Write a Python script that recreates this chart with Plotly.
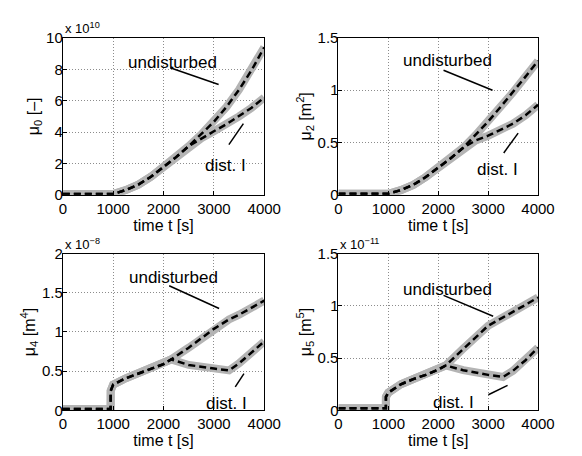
import plotly.graph_objects as go

# ---------------- data ----------------
t_top = [0, 500, 1000, 1250, 1500, 1750, 2000, 2250, 2500, 2750, 3000, 3250, 3500, 3750, 4000]
mu0_undisturbed = [0.05, 0.05, 0.05, 0.3, 0.65, 1.15, 1.75, 2.4, 3.1, 3.85, 4.65, 5.6, 6.7, 7.95, 9.4]
mu0_dist = [0.05, 0.05, 0.05, 0.3, 0.65, 1.15, 1.75, 2.4, 3.1, 3.6, 4.05, 4.5, 5.0, 5.55, 6.2]
mu2_undisturbed = [0.01, 0.01, 0.01, 0.045, 0.095, 0.17, 0.26, 0.35, 0.45, 0.57, 0.70, 0.84, 0.98, 1.13, 1.28]
mu2_dist = [0.01, 0.01, 0.01, 0.045, 0.095, 0.17, 0.26, 0.35, 0.45, 0.52, 0.565, 0.62, 0.68, 0.76, 0.86]

t_bot = [0, 950, 951, 1000, 1250, 1500, 1750, 2000, 2150, 2500, 3000, 3300, 3500, 3750, 4000]
mu4_undisturbed = [0.02, 0.02, 0.25, 0.33, 0.41, 0.47, 0.53, 0.59, 0.65, 0.80, 1.04, 1.16, 1.22, 1.31, 1.40]
mu4_dist = [0.02, 0.02, 0.25, 0.33, 0.41, 0.47, 0.53, 0.59, 0.65, 0.58, 0.535, 0.51, 0.60, 0.74, 0.88]
mu5_undisturbed = [0.02, 0.02, 0.13, 0.17, 0.25, 0.30, 0.34, 0.39, 0.43, 0.59, 0.81, 0.89, 0.94, 1.01, 1.08]
mu5_dist = [0.02, 0.02, 0.13, 0.17, 0.25, 0.30, 0.34, 0.39, 0.43, 0.385, 0.34, 0.32, 0.38, 0.48, 0.60]

y_titles = ["μ<sub>0</sub> [–]", "μ<sub>2</sub> [m<sup>2</sup>]", "μ<sub>4</sub> [m<sup>4</sup>]", "μ<sub>5</sub> [m<sup>5</sup>]"]
y_ranges = [[0, 10], [0, 1.5], [0, 2], [0, 1.5]]
y_dticks = [2, 0.5, 0.5, 0.5]
exponents = ["x 10<sup>10</sup>", None, "x 10<sup>−8</sup>", "x 10<sup>−11</sup>"]
x_title = "time t [s]"
x_ticks = [0, 1000, 2000, 3000, 4000]

# annotation geometry (data coords): text pos, line start, line end
label_und = [(2182, 8.45, 2131, 8.1, 3094, 7.03),
             (2183, 1.28, 2106, 1.19, 3088, 1.0),
             (2189, 1.69, 2112, 1.59, 3104, 1.30),
             (2189, 1.16, 2106, 1.10, 3101, 0.90)]
label_dist = [(3234, 1.86, 3585, 4.54, 3298, 3.2),
              (3197, 0.24, 3602, 0.59, 3313, 0.40),
              (3245, 0.09, 3597, 0.47, 3424, 0.30),
              (2299, 0.077, 3390, 0.24, 3005, 0.15)]

panels = [(t_top, mu0_undisturbed, mu0_dist),
          (t_top, mu2_undisturbed, mu2_dist),
          (t_bot, mu4_undisturbed, mu4_dist),
          (t_bot, mu5_undisturbed, mu5_dist)]

W, H = 582, 456
x_doms = [[61 / W, 270 / W], [347 / W, 554 / W]]
y_doms = [[1 - 193 / H, 1 - 30 / H], [1 - 417 / H, 1 - 254 / H]]

FONT = "Liberation Sans, Arial, sans-serif"
fig = go.Figure()
grey = "#b4b4b4"

for i, (t, und, dist) in enumerate(panels):
    n = "" if i == 0 else str(i + 1)
    xa, ya = "x" + n, "y" + n
    for ys in (und, dist):
        fig.add_trace(go.Scatter(x=t, y=ys, mode="lines", xaxis=xa, yaxis=ya,
                                 line=dict(color=grey, width=8), showlegend=False, hoverinfo="skip"))
    for ys in (und, dist):
        fig.add_trace(go.Scatter(x=t, y=ys, mode="lines", xaxis=xa, yaxis=ya,
                                 line=dict(color="black", width=2.5, dash="7px,4px"),
                                 showlegend=False, hoverinfo="skip"))
    col, row = i % 2, i // 2
    axis_common = dict(showline=True, linecolor="black", linewidth=1, mirror=True,
                       ticks="inside", ticklen=4, tickcolor="black",
                       showgrid=True, gridcolor="#8c8c8c", griddash="1px,2px", gridwidth=1,
                       zeroline=False, tickfont=dict(family=FONT, size=15, color="black"))
    fig.layout["xaxis" + n] = dict(domain=x_doms[col], anchor=ya, range=[0, 4000],
                                   tickvals=x_ticks, ticklabelstandoff=0,
                                   title=dict(text=x_title, standoff=0,
                                   font=dict(family=FONT, size=16, color="black")), **axis_common)
    fig.layout["yaxis" + n] = dict(domain=y_doms[row], anchor=xa, range=y_ranges[i],
                                   dtick=y_dticks[i], ticklabelstandoff=-4,
                                   title=dict(text=y_titles[i], standoff=2,
                                   font=dict(family=FONT, size=16, color="black")), **axis_common)
    tx, ty, x0, y0, x1, y1 = label_und[i]
    fig.add_annotation(x=tx, y=ty, xref=xa, yref=ya, text="undisturbed", showarrow=False,
                       font=dict(family=FONT, size=17, color="black"))
    fig.add_shape(type="line", x0=x0, y0=y0, x1=x1, y1=y1, xref=xa, yref=ya,
                  line=dict(color="black", width=1.5))
    tx, ty, x0, y0, x1, y1 = label_dist[i]
    fig.add_annotation(x=tx, y=ty, xref=xa, yref=ya, text="dist. I", showarrow=False,
                       font=dict(family=FONT, size=17, color="black"))
    fig.add_shape(type="line", x0=x0, y0=y0, x1=x1, y1=y1, xref=xa, yref=ya,
                  line=dict(color="black", width=1.5))
    if exponents[i]:
        fig.add_annotation(x=x_doms[col][0], y=y_doms[row][1], xref="paper", yref="paper",
                           xanchor="left", yanchor="bottom", text=exponents[i], showarrow=False,
                           font=dict(family=FONT, size=13, color="black"))

fig.update_layout(width=W, height=H, autosize=False, margin=dict(l=0, r=0, t=0, b=0),
                  paper_bgcolor="white", plot_bgcolor="white", showlegend=False)
fig.write_html("out.html", config={"displayModeBar": False, "responsive": False},
               post_script=("document.body.style.margin='0';"
                            "document.body.style.overflow='hidden';"))
